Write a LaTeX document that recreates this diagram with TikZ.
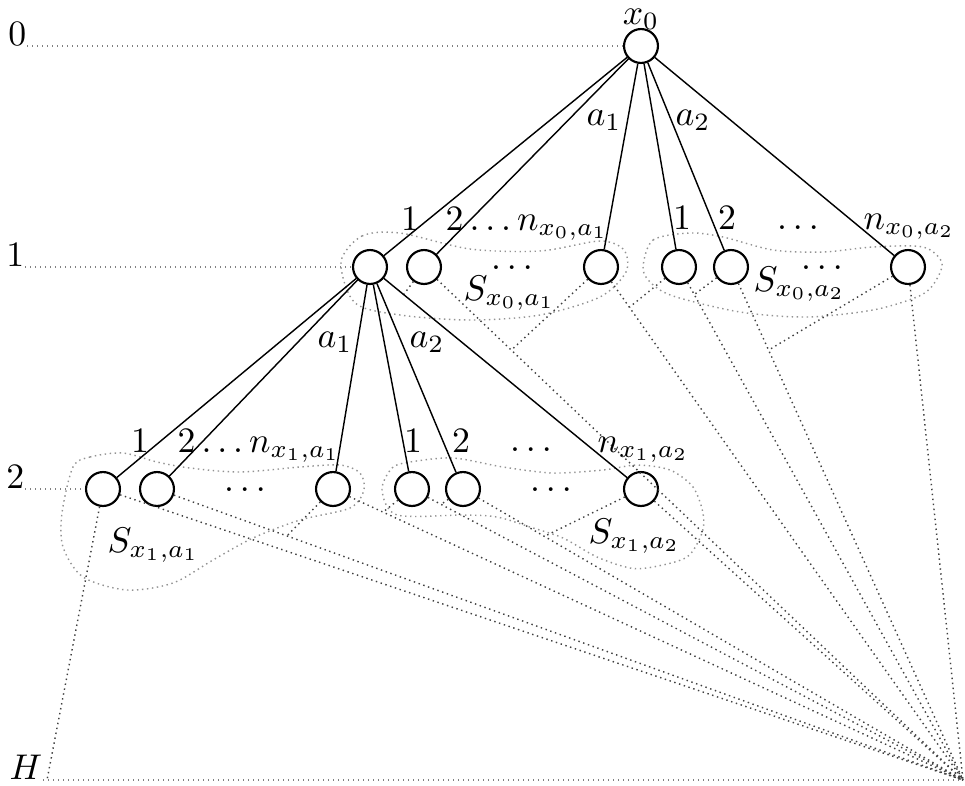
\documentclass[tikz,border=0pt]{standalone}
\usepackage{amsmath, amssymb}
\usepackage{tikz}
\usetikzlibrary{calc}
\usepackage{xcolor}

\tikzset{
  vert/.style={circle, draw, semithick, fill=white, minimum size=9.5pt, inner sep=0pt},
  levelline/.style={gray, densely dotted},
  ray/.style={black!75, densely dotted},
  grouping/.style={gray!85, densely dotted},
}

\begin{document}
\begin{tikzpicture}[x=0.28pt, y=-0.28pt]
  \useasboundingbox (0,0) rectangle (965,785);

  % Nodes of the three levels
  \node[vert] (x0) at (641,46) {};
  \foreach \n/\x in {x1/370, p2/424, pn/601, q1/679, q2/731, qn/908} {
    \node[vert] (\n) at (\x,267) {};
  }
  \foreach \n/\x in {r1/103, r2/157, rn/333, t1/412, t2/463, tn/641} {
    \node[vert] (\n) at (\x,489) {};
  }
  \coordinate (Hl) at (47,780);
  \coordinate (C) at (963,780);

  % Level labels and their lines
  \node[anchor=south east, inner sep=0pt] (l0) at (27,46) {$0$};
  \node[anchor=south east, inner sep=0pt] (l1) at (25,267) {$1$};
  \node[anchor=south east, inner sep=0pt] (l2) at (25,489) {$2$};
  \node[anchor=south east, inner sep=0pt] (lH) at (43,780) {$H$};
  \draw[levelline] (l0.south east) -- (x0.west);
  \draw[levelline] (l1.south east) -- (x1.west);
  \draw[levelline] (l2.south east) -- (r1.west);
  \draw[levelline] (lH.south east) -- (C);

  % Groups
  \draw[grouping] plot[smooth cycle] coordinates {(341,262) (362,236) (400,233) (470,249)
    (540,251) (600,241) (624,250) (626,272) (600,297) (540,315) (470,320) (400,315) (355,303)};
  \draw[grouping] plot[smooth cycle] coordinates {(643,267) (653,240) (690,233) (723,237)
    (773,250) (823,252) (873,247) (923,247) (942,263) (933,285) (917,297) (873,310)
    (807,317) (740,312) (673,296) (650,282)};
  \draw[grouping] plot[smooth cycle] coordinates {(73,467) (90,457) (123,453) (157,462)
    (190,468) (240,472) (300,467) (340,465) (360,473) (364,490) (350,508) (300,520)
    (253,538) (213,560) (173,583) (127,590) (83,577) (63,547) (62,513)};
  \draw[grouping] plot[smooth cycle] coordinates {(382,490) (392,468) (410,462) (453,458)
    (503,467) (553,473) (603,470) (637,465) (670,470) (693,487) (703,513) (702,533)
    (687,557) (653,567) (630,568) (597,557) (563,538) (530,527) (497,517) (463,515)
    (397,515)};

  % Subtrees down to H
  \foreach \n in {p2, pn, q1, q2, qn, r1, r2, rn, t1, t2, tn} {
    \draw[ray] (\n) -- (C);
  }
  \draw[ray] (r1) -- (Hl);
  \foreach \n/\s in {p2/0.054, pn/0.162, q1/0.0785, q2/0.0537, qn/0.162,
                     rn/0.161, t1/0.0794, t2/0.0527, tn/0.1627} {
    \draw[ray] (\n) -- ($(\n)!\s!(Hl)$);
  }

  % Edges
  \foreach \n in {x1, p2, pn, q1, q2, qn} {
    \draw (x0) -- (\n);
  }
  \foreach \n in {r1, r2, rn, t1, t2, tn} {
    \draw (x1) -- (\n);
  }

  % Labels
  \node[anchor=base, inner sep=0pt] at (641,24) {$x_0$};
  \node at (604,120) {$a_1$};
  \node at (693,120) {$a_2$};
  \node at (335,342) {$a_1$};
  \node at (427,342) {$a_2$};

  \node[anchor=base] at (410,230) {$1$};
  \node[anchor=base west, inner sep=0pt] at (445,230) {$2\ldots n_{x_0,a_1}$};
  \node[anchor=base] at (682,229) {$1$};
  \node[anchor=base] at (727,229) {$2$};
  \node[anchor=base] at (798,229) {$\ldots$};
  \node[anchor=base west, inner sep=0pt] at (863,229) {$n_{x_0,a_2}$};

  \node[anchor=base] at (140,452) {$1$};
  \node[anchor=base west, inner sep=0pt] at (177,452) {$2\ldots n_{x_1,a_1}$};
  \node[anchor=base] at (413,452) {$1$};
  \node[anchor=base] at (461,452) {$2$};
  \node[anchor=base] at (531,451) {$\ldots$};
  \node[anchor=base west, inner sep=0pt] at (597,452) {$n_{x_1,a_2}$};

  \node[anchor=base] at (512,269) {$\ldots$};
  \node[anchor=base] at (822,269) {$\ldots$};
  \node[anchor=base] at (245,491) {$\ldots$};
  \node[anchor=base] at (551,491) {$\ldots$};

  \node[anchor=base west, inner sep=0pt] at (463,300) {$S_{x_0,a_1}$};
  \node[anchor=base west, inner sep=0pt] at (753,291) {$S_{x_0,a_2}$};
  \node[anchor=base west, inner sep=0pt] at (107,552) {$S_{x_1,a_1}$};
  \node[anchor=base west, inner sep=0pt] at (588,543) {$S_{x_1,a_2}$};
\end{tikzpicture}
\end{document}
